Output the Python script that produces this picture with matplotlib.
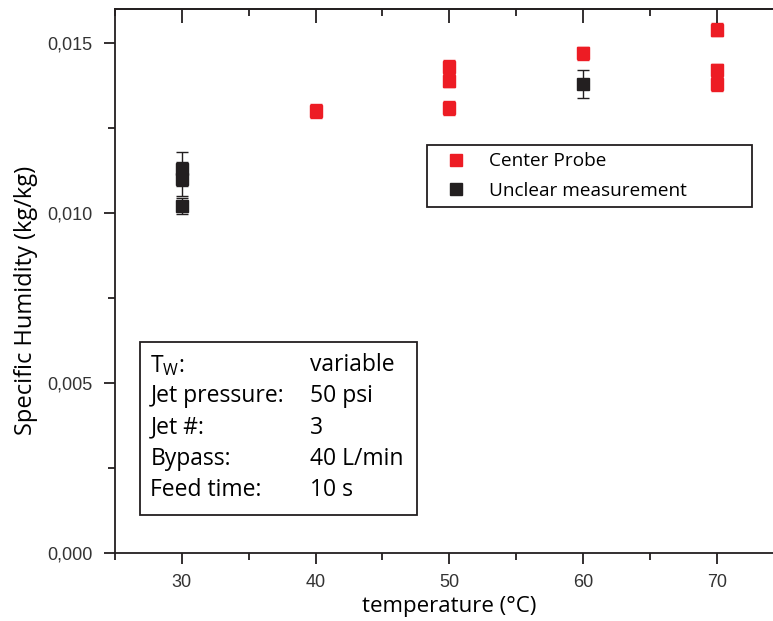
'''MODULES'''
import numpy as np
import matplotlib
matplotlib.use('Agg')
import matplotlib.pyplot as plt
from matplotlib.ticker import FuncFormatter, MultipleLocator
from matplotlib.patches import Rectangle
from matplotlib.lines import Line2D


'''Data read off the chart'''
# Center probe (red)
probe_temp = [40, 50, 50, 50, 60, 70, 70, 70]
probe_hum = [0.0130, 0.0143, 0.0139, 0.0131, 0.0147, 0.0154, 0.0142, 0.0138]
probe_err = [0.0002, 0.0002, 0.0002, 0.0002, 0.0002, 0.0002, 0.0002, 0.0002]

# Unclear measurement (black)
unclear_temp = [30, 30, 30, 60]
unclear_hum = [0.0113, 0.0110, 0.0102, 0.0138]
unclear_err = [0.0005, 0.0005, 0.00024, 0.0004]

series_names = ['Center Probe', 'Unclear measurement']

info_keys = ['T$_{\\mathrm{W}}$:', 'Jet pressure:', 'Jet #:', 'Bypass:', 'Feed time:']
info_vals = ['variable', '50 psi', '3', '40 L/min', '10 s']

red = '#ed1c24'
black = '#231f20'

plt.rcParams['font.family'] = ['Open Sans', 'DejaVu Sans']
plt.rcParams['mathtext.fontset'] = 'custom'
plt.rcParams['mathtext.rm'] = 'Open Sans'

'''Plotting data'''
fig = plt.figure(figsize=(7.73, 6.21), dpi=100, facecolor='white')
ax = fig.add_axes([0.1488, 0.110, 0.865, 0.875])

ax.errorbar(probe_temp, probe_hum, yerr=probe_err, fmt='s', color=red, ecolor=red,
            markersize=9, elinewidth=1, capsize=4.5, capthick=1, zorder=3)
ax.errorbar(unclear_temp, unclear_hum, yerr=unclear_err, fmt='s', color=black, ecolor=black,
            markersize=9, elinewidth=1, capsize=4.5, capthick=1, zorder=3)

ax.set_xlim(25, 75)
ax.set_ylim(0, 0.016)

ax.xaxis.set_major_locator(MultipleLocator(10))
ax.xaxis.set_minor_locator(MultipleLocator(5))
ax.yaxis.set_major_locator(MultipleLocator(0.005))
ax.yaxis.set_minor_locator(MultipleLocator(0.0025))
ax.yaxis.set_major_formatter(FuncFormatter(lambda v, p: ('%.3f' % v).replace('.', ',')))

for s in ['left', 'bottom', 'top']:
    ax.spines[s].set_linewidth(1.3)
    ax.spines[s].set_color(black)
ax.spines['right'].set_visible(False)

ax.tick_params(which='major', direction='out', length=8, width=1.3, color=black,
               labelsize=13, top=False, right=False)
ax.tick_params(axis='y', which='major', pad=8)
ax.tick_params(axis='x', which='major', pad=7)
ax.tick_params(which='minor', direction='out', length=5, width=1.3, color=black,
               top=False, right=False)
for lab in ax.get_xticklabels() + ax.get_yticklabels():
    lab.set_family(['Liberation Sans', 'DejaVu Sans'])
    lab.set_color('#333333')

# inward ticks along the top edge
ax2 = ax.twiny()
ax2.set_xlim(ax.get_xlim())
ax2.xaxis.set_major_locator(MultipleLocator(10))
ax2.xaxis.set_minor_locator(MultipleLocator(5))
ax2.tick_params(which='major', direction='in', length=10, width=1.3, color=black,
                labeltop=False, top=True, bottom=False)
ax2.tick_params(which='minor', direction='in', length=5, width=1.3, color=black,
                top=True, bottom=False)
for s in ['left', 'bottom', 'right']:
    ax2.spines[s].set_visible(False)
ax2.spines['top'].set_linewidth(1.3)
ax2.spines['top'].set_color(black)

ax.set_xlabel('temperature (°C)', fontsize=16, labelpad=4)
ax.set_ylabel('Specific Humidity (kg/kg)', fontsize=17)
ax.yaxis.set_label_coords(-0.115, 0.465)

handles = [Line2D([], [], marker='s', linestyle='none', color=c, markersize=8.5) for c in [red, black]]
leg = ax2.legend(handles, series_names, loc='upper left',
                 bbox_to_anchor=(0.466, 0.638, 0.487, 0.112), mode='expand',
                 fontsize=13.7, frameon=True, fancybox=False, edgecolor=black, framealpha=1,
                 handlelength=2.4, handletextpad=0.5, borderpad=0.37, labelspacing=0.62,
                 borderaxespad=0)
leg.get_frame().set_linewidth(1.3)

# info box
ax.add_patch(Rectangle((0.0374, 0.0694), 0.4141, 0.3186, transform=ax.transAxes,
                       fill=False, edgecolor=black, linewidth=1.3, zorder=4))
for i, (k, v) in enumerate(zip(info_keys, info_vals)):
    yy = 0.345 - i * 0.0575
    ax.text(0.053, yy, k, transform=ax.transAxes, fontsize=16.5, va='center', ha='left')
    ax.text(0.292, yy, v, transform=ax.transAxes, fontsize=16.5, va='center', ha='left')

fig.savefig('out.png', dpi=100)
